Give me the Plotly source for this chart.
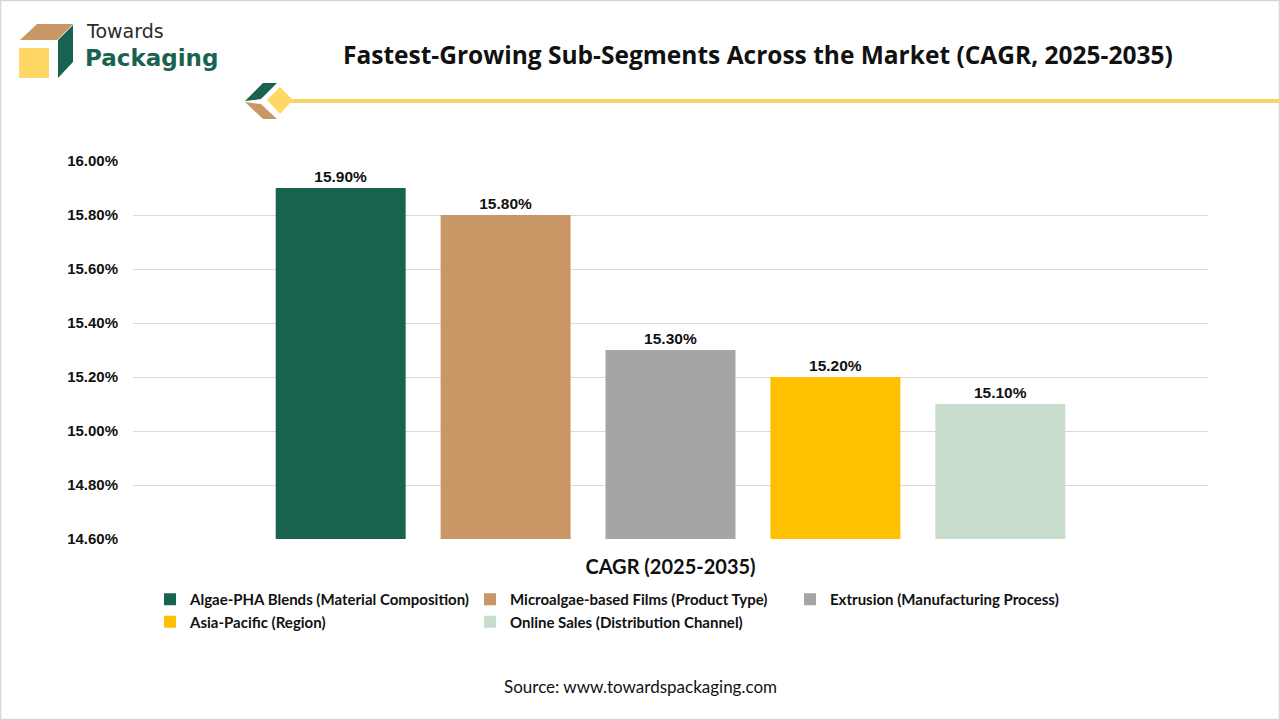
import plotly.graph_objects as go

# data
segments = [
    "Algae-PHA Blends (Material Composition)",
    "Microalgae-based Films (Product Type)",
    "Extrusion (Manufacturing Process)",
    "Asia-Pacific (Region)",
    "Online Sales (Distribution Channel)",
]
cagr = [15.90, 15.80, 15.30, 15.20, 15.10]
colors = ["#18634F", "#C99765", "#A5A5A5", "#FFC000", "#C8DCCD"]
category = ["CAGR (2025-2035)"]
yticks = [14.6, 14.8, 15.0, 15.2, 15.4, 15.6, 15.8, 16.0]

W, H = 1280, 720
L, R, T, B = 133, 72, 161, 181


def px(x, y):
    # pixel -> paper coords
    return (x - L) / (W - L - R), (H - B - y) / (H - T - B)


def poly(points):
    pts = [px(x, y) for x, y in points]
    return "M " + " L ".join(f"{a:.5f},{b:.5f}" for a, b in pts) + " Z"


fig = go.Figure()
for name, val, col in zip(segments, cagr, colors):
    fig.add_trace(go.Bar(
        x=category, y=[val], name=name,
        marker_color=col, marker_line_width=0,
        text=[f"{val:.2f}%"], textposition="outside", cliponaxis=False,
        textfont=dict(family="Arial", size=15.5, color="#111111", weight="bold"),
    ))

shapes = []
# logo cube
shapes.append(dict(type="path", path=poly([(20, 40), (37, 24), (73, 24), (57, 40)]),
                   fillcolor="#C99765", line_width=0, xref="paper", yref="paper"))
shapes.append(dict(type="path", path=poly([(58, 40), (73, 25), (73, 62), (58, 78)]),
                   fillcolor="#18634F", line_width=0, xref="paper", yref="paper"))
shapes.append(dict(type="path", path=poly([(19, 48), (49, 48), (49, 78), (19, 78)]),
                   fillcolor="#FED766", line_width=0, xref="paper", yref="paper"))
# small diamond icon + yellow rule
shapes.append(dict(type="path", path=poly([(245, 101), (263, 83), (277, 83), (261, 99)]),
                   fillcolor="#18634F", line_width=0, xref="paper", yref="paper"))
shapes.append(dict(type="path", path=poly([(245, 102), (263, 119), (277, 119), (261, 104)]),
                   fillcolor="#C99765", line_width=0, xref="paper", yref="paper"))
x0, y0 = px(290, 101)
x1, _ = px(1280, 101)
shapes.append(dict(type="line", x0=x0, x1=x1, y0=y0, y1=y0, xref="paper", yref="paper",
                   line=dict(color="#F6D564", width=4)))
shapes.append(dict(type="path", path=poly([(280, 87), (293, 100), (280, 114), (267, 100)]),
                   fillcolor="#FED766", line_width=0, xref="paper", yref="paper"))
# outer border
bx0, by0 = px(0.5, 0.5)
bx1, by1 = px(1279.5, 719.5)
shapes.append(dict(type="rect", x0=bx0, y0=by0, x1=bx1, y1=by1, xref="paper", yref="paper",
                   line=dict(color="#D6D6D6", width=1.5), layer="below"))

annotations = []
ax, ay = px(84, 31)
annotations.append(dict(text="Towards", x=ax, y=ay, xref="paper", yref="paper",
                        xanchor="left", yanchor="middle", showarrow=False,
                        font=dict(family="DejaVu Sans", size=19, color="#2B2B2B")))
ax, ay = px(83, 58)
annotations.append(dict(text="<b>Packaging</b>", x=ax, y=ay, xref="paper", yref="paper",
                        xanchor="left", yanchor="middle", showarrow=False,
                        font=dict(family="DejaVu Sans", size=23, color="#18634F")))
ax, ay = px(758, 55)
annotations.append(dict(text="<b>Fastest-Growing Sub-Segments Across the Market (CAGR, 2025-2035)</b>",
                        x=ax, y=ay, xref="paper", yref="paper", showarrow=False,
                        xanchor="center", yanchor="middle",
                        font=dict(family="Open Sans", size=24.5, color="#111111")))
ax, ay = px(640, 686)
annotations.append(dict(text="Source: www.towardspackaging.com", x=ax, y=ay,
                        xref="paper", yref="paper", showarrow=False,
                        xanchor="center", yanchor="middle",
                        font=dict(family="Lato", size=17, color="#111111")))

lx, ly = px(150, 583)
fig.update_layout(
    width=W, height=H,
    margin=dict(l=L, r=R, t=T, b=B),
    paper_bgcolor="white", plot_bgcolor="white",
    barmode="group", bargap=0.233, bargroupgap=0.212,
    shapes=shapes, annotations=annotations,
    showlegend=True,
    legend=dict(orientation="h", x=lx, y=ly, xanchor="left", yanchor="top",
                entrywidth=275, entrywidthmode="pixels", tracegroupgap=0,
                itemwidth=30,
                font=dict(family="Lato", size=15, color="#111111", weight="bold")),
    xaxis=dict(showgrid=False, showline=False, ticks="", ticklabelstandoff=14,
               tickfont=dict(family="Lato", size=20, color="#111111", weight="bold")),
    yaxis=dict(range=[14.6, 16.0], tickvals=yticks,
               ticktext=[f"{v:.2f}%" for v in yticks],
               showgrid=True, gridcolor="#D9D9D9", gridwidth=1,
               zeroline=False, showline=False, ticks="", ticklabelstandoff=14,
               tickfont=dict(family="Arial", size=15, color="#111111", weight="bold")),
)

fig.write_html("out.html", config={"displayModeBar": False},
               post_script="document.body.style.margin='0px';")
